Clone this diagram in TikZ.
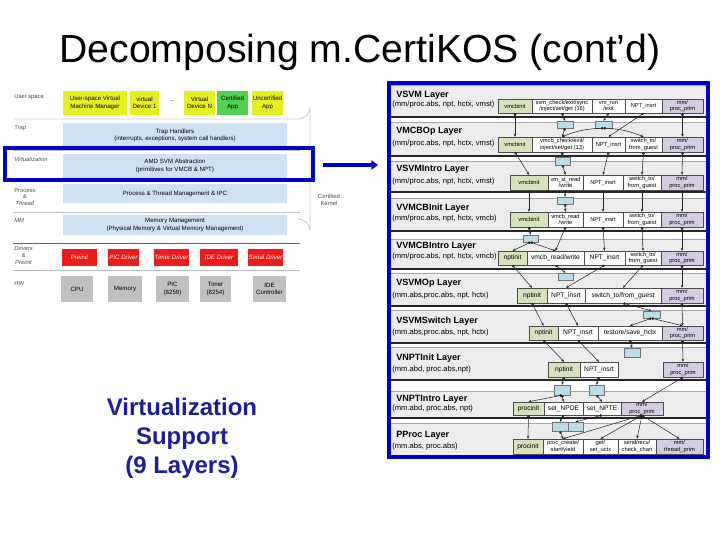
\documentclass[tikz,border=0pt]{standalone}
\usepackage{fontspec}
\setmainfont{Liberation Sans}
\usetikzlibrary{arrows.meta}
\definecolor{userY}{RGB}{230,240,30}
\definecolor{certG}{RGB}{80,210,80}
\definecolor{trapB}{RGB}{207,226,243}
\definecolor{drvR}{RGB}{236,28,28}
\definecolor{hwG}{RGB}{192,192,192}
\definecolor{hiBlue}{RGB}{0,0,200}
\definecolor{bandG}{RGB}{236,236,236}
\definecolor{initG}{RGB}{215,226,188}
\definecolor{primP}{RGB}{212,204,226}
\definecolor{cyanB}{RGB}{184,220,234}
\definecolor{vsBlue}{RGB}{30,30,150}
\newcommand\mybox[7]{\node[#6, minimum width={(#3-#2)*0.75pt}, minimum height={(#5-#4)*0.75pt}] (#1) at ({(#2+#3)/2},{(#4+#5)/2}) {#7};}
\newcommand\myband[7]{%
  \fill[bandG] (391,#2) rectangle (706,#3);
  \draw[black!35,line width=0.3pt] (391,#2) -- (706,#2);
  \draw[black!85,line width=0.8pt] (391,#3) -- (706,#3);
  \node[ltitle] (#1t) at (396,#4) {#6};
  \node[lsub] (#1s) at (392,#5) {#7};}
\tikzset{
  lbl/.style={anchor=west, inner sep=0pt, align=left, text=black!70, font=\fontsize{4.4}{5.2}\selectfont},
  lb/.style={inner sep=0.5pt, align=center, font=\fontsize{4.6}{5.4}\selectfont},
  yb/.style={lb, fill=userY},
  gb/.style={lb, fill=certG},
  tb/.style={lb, fill=trapB},
  rb/.style={lb, fill=drvR, text=white, font=\fontsize{4.6}{5.4}\selectfont\itshape},
  hb/.style={lb, fill=hwG},
  sep/.style={draw=black!25, line width=0.4pt},
  fb/.style={draw=black!70, line width=0.35pt, inner sep=0.3pt, align=center, font=\fontsize{4.3}{4.6}\selectfont},
  big/.style={font=\fontsize{5}{5.6}\selectfont},
  gx/.style={fb, fill=initG},
  px/.style={fb, fill=primP},
  wx/.style={fb, fill=white},
  cy/.style={draw=black!55, line width=0.35pt, fill=cyanB, inner sep=0pt},
  ltitle/.style={anchor=west, inner sep=0pt, font=\fontsize{6.8}{8}\selectfont\bfseries},
  lsub/.style={anchor=west, inner sep=0pt, font=\fontsize{5.7}{6.4}\selectfont},
  conn/.style={draw=black!85, line width=0.4pt, arrows={Circle[length=2pt]-{Stealth[length=2.2pt,width=1.9pt]}}},
}
\begin{document}
\begin{tikzpicture}[x=0.75pt,y=-0.75pt]
\useasboundingbox (0,0) rectangle (720,540);
\fill[white] (0,0) rectangle (720,540);
% title
\node[anchor=base, inner sep=0pt, font=\fontsize{29.4}{34}\selectfont] (title) at (360,62) {Decomposing m.CertiKOS (cont’d)};

% ---------- left diagram ----------
\draw[black!20, line width=0.6pt] (13,119) -- (298,119) arc[start angle=90, end angle=0, radius=12] -- (310,231) arc[start angle=0, end angle=-90, radius=12];
\draw[sep] (13,150) -- (300,150);
\draw[sep] (13,181) -- (300,181);
\draw[sep] (13,212) -- (300,212);
\draw[black!60, line width=0.5pt] (13,243) -- (300,243);
\draw[sep] (13,270) -- (300,270);

\node[lbl] (lus) at (14,97) {User space};
\node[lbl] (ltr) at (14,128) {Trap};
\node[lbl] (lvi) at (14,159) {\itshape Virtualization};
\node[lbl, align=center] (lpt) at (14,197) {Process\\\&\\\itshape Thread};
\node[lbl] (lmm) at (14,220) {\itshape MM};
\node[lbl, align=center] (ldp) at (14,255) {\itshape Drivers\\\&\\\itshape Preinit};
\node[lbl] (lhw) at (14,283) {HW};
\node[lbl, align=center, anchor=center] (lck) at (329,200) {Certified\\Kernel};

\mybox{u1}{63}{127}{91}{115}{yb}{User-space Virtual\\Machine Manager}
\mybox{u2}{130}{159}{91}{115}{yb}{virtual\\Device 1}
\node[lb] (udots) at (172,101) {...};
\mybox{u3}{184}{215}{91}{115}{yb}{Virtual\\Device N}
\mybox{u4}{217}{248}{91}{115}{gb}{Certified\\App}
\mybox{u5}{252}{283}{91}{115}{yb}{Uncertified\\App}

\mybox{trap}{63}{287}{123}{148}{tb}{Trap Handlers\\(interrupts, exceptions, system call handlers)}
\mybox{svm}{63}{287}{154}{178}{tb}{AMD SVM Abstraction\\(primitives for VMCB \& NPT)}
\mybox{proc}{63}{287}{184}{203}{tb}{Process \& Thread Management \& IPC}
\mybox{mem}{63}{287}{215}{235}{tb}{Memory Management\\(Physical Memory \& Virtual Memory Management)}

\mybox{d1}{62}{97}{249}{266}{rb}{Preinit}
\mybox{d2}{108}{139}{249}{266}{rb}{PIC Driver}
\mybox{d3}{154}{189}{249}{266}{rb}{Timer Driver}
\mybox{d4}{200}{238}{249}{266}{rb}{IDE Driver}
\mybox{d5}{248}{283}{249}{266}{rb}{Serial Driver}

\mybox{h1}{61}{93}{276}{302}{hb}{CPU}
\mybox{h2}{108}{142}{276}{302}{hb}{Memory}
\mybox{h3}{156}{189}{276}{302}{hb}{PIC\\(8259)}
\mybox{h4}{200}{231}{276}{302}{hb}{Timer\\(8254)}
\mybox{h5}{253}{286}{276}{302}{hb}{IDE\\Controller}

\draw[hiBlue, line width=2.6pt] (5,148) rectangle (313,180);
\coordinate (arS) at (323,165);
\coordinate (arE) at (378,165);
\draw[hiBlue, line width=3pt, -{Triangle[length=5pt,width=7pt]}] (arS) -- (arE);

\node[align=center, text=vsBlue, inner sep=0pt, font=\fontsize{18}{21.8}\selectfont\bfseries] (vs) at (182,438) {Virtualization\\Support\\(9 Layers)};

% ---------- right diagram ----------
\myband{b1}{85}{117}{95}{105}{VSVM Layer}{(mm/proc.abs, npt, hctx, vmst)}
\myband{b2}{122}{156}{131}{144}{VMCBOp Layer}{(mm/proc.abs, npt, hctx, vmst)}
\myband{b3}{161}{192}{169}{182}{VSVMIntro Layer}{(mm/proc.abs, npt, hctx, vmst)}
\myband{b4}{198}{231}{208}{219}{VVMCBInit Layer}{(mm/proc.abs, npt, hctx, vmcb)}
\myband{b5}{239}{269}{246}{257}{VVMCBIntro Layer}{(mm/proc.abs, npt, hctx, vmcb)}
\myband{b6}{273}{306}{283}{296}{VSVMOp Layer}{(mm.abs,proc.abs, npt, hctx)}
\myband{b7}{310}{343}{321}{333}{VSVMSwitch Layer}{(mm.abs,proc.abs, npt, hctx)}
\myband{b8}{347}{380}{358}{370}{VNPTInit Layer}{(mm.abd, proc.abs,npt)}
\myband{b9}{391}{418}{399}{409}{VNPTIntro Layer}{(mm.abd, proc.abs, npt)}
\myband{b10}{423}{456}{435}{447}{PProc Layer}{(mm.abs, proc.abs)}

% layer boxes
\mybox{L1a}{498}{532}{99}{113}{gx}{vmcbinit}
\mybox{L1b}{532}{592}{99}{113}{wx}{svm\_check/exit/sync\\/inject/set/get (16)}
\mybox{L1c}{592}{625}{99}{113}{wx}{vm\_run\\/exit}
\mybox{L1d}{625}{662}{99}{113}{wx}{NPT\_insrt}
\mybox{L1e}{662}{703}{99}{113}{px}{mm/\\proc\_prim}

\mybox{L2a}{498}{532}{137}{152}{gx}{vmcbinit}
\mybox{L2b}{532}{592}{137}{152}{wx}{vmcb\_check/exit/\\inject/set/get (13)}
\mybox{L2c}{592}{625}{137}{152}{wx}{NPT\_insrt}
\mybox{L2d}{625}{662}{137}{152}{wx}{switch\_to/\\from\_guest}
\mybox{L2e}{662}{703}{137}{152}{px}{mm/\\proc\_prim}

\mybox{L3a}{510}{548}{175}{190}{gx}{vmcbinit}
\mybox{L3b}{548}{583}{175}{190}{wx}{vm\_st\_read\\/write}
\mybox{L3c}{583}{623}{175}{190}{wx}{NPT\_insrt}
\mybox{L3d}{623}{661}{175}{190}{wx}{switch\_to/\\from\_guest}
\mybox{L3e}{661}{703}{175}{190}{px}{mm/\\proc\_prim}

\mybox{L4a}{510}{548}{212}{227}{gx}{vmcbinit}
\mybox{L4b}{548}{583}{212}{227}{wx}{vmcb\_read\\/write}
\mybox{L4c}{583}{623}{212}{227}{wx}{NPT\_insrt}
\mybox{L4d}{623}{661}{212}{227}{wx}{switch\_to/\\from\_guest}
\mybox{L4e}{661}{703}{212}{227}{px}{mm/\\proc\_prim}

\mybox{L5a}{498}{527}{251}{265}{gx,big}{nptinit}
\mybox{L5b}{527}{584}{251}{265}{wx,big}{vmcb\_read/write}
\mybox{L5c}{584}{625}{251}{265}{wx,big}{NPT\_insrt}
\mybox{L5d}{625}{661}{251}{265}{wx}{switch\_to/\\from\_guest}
\mybox{L5e}{661}{703}{251}{265}{px}{mm/\\proc\_prim}

\mybox{L6a}{517}{547}{288}{303}{gx,big}{nptinit}
\mybox{L6b}{547}{585}{288}{303}{wx,big}{NPT\_insrt}
\mybox{L6c}{585}{661}{288}{303}{wx,big}{switch\_to/from\_guest}
\mybox{L6e}{661}{703}{288}{303}{px}{mm/\\proc\_prim}

\mybox{L7a}{529}{558}{326}{340}{gx,big}{nptinit}
\mybox{L7b}{558}{598}{326}{340}{wx,big}{NPT\_insrt}
\mybox{L7c}{598}{662}{326}{340}{wx,big}{restore/save\_hctx}
\mybox{L7e}{662}{703}{326}{340}{px}{mm/\\proc\_prim}

\mybox{L8a}{548}{580}{362}{377}{gx,big}{nptinit}
\mybox{L8b}{580}{618}{362}{377}{wx,big}{NPT\_insrt}
\mybox{L8e}{663}{703}{362}{377}{px}{mm/\\proc\_prim}

\mybox{L9a}{513}{544}{402}{415}{gx,big}{procinit}
\mybox{L9b}{544}{583}{402}{415}{wx,big}{set\_NPDE}
\mybox{L9c}{583}{621}{402}{415}{wx,big}{set\_NPTE}
\mybox{L9e}{621}{663}{402}{415}{px}{mm/\\proc\_prim}

\mybox{L10a}{513}{543}{439}{454}{gx,big}{procinit}
\mybox{L10b}{543}{583}{439}{454}{wx}{proc\_create/\\start/yield}
\mybox{L10c}{583}{618}{439}{454}{wx}{get/\\set\_uctx}
\mybox{L10d}{618}{656}{439}{454}{wx}{send/recv/\\check\_chan}
\mybox{L10e}{656}{703}{439}{454}{px}{mm/\\thread\_prim}

% cyan boxes
\mybox{c1a}{557}{573}{121}{128}{cy}{}
\mybox{c1b}{595}{612}{121}{128}{cy}{}
\mybox{c2}{555}{570}{157}{165}{cy}{}
\mybox{c3}{557}{573}{197}{204}{cy}{}
\mybox{c4}{523}{538}{235}{242}{cy}{}
\mybox{c5}{558}{573}{273}{280}{cy}{}
\mybox{c6}{643}{660}{311}{318}{cy}{}
\mybox{c7}{624}{640}{348}{357}{cy}{}
\mybox{c8a}{554}{570}{385}{395}{cy}{}
\mybox{c8b}{589}{604}{385}{395}{cy}{}
\mybox{c9a}{552}{568}{422}{431}{cy}{}
\mybox{c9b}{568}{583}{422}{431}{cy}{}

% connectors
\draw[conn] (L1a.south) -- (L2a.north);
\draw[conn] (L1b.south) -- (c1a.north);
\draw[conn] (L1c.south) -- (c1b.north);
\draw[conn] (L1d.south) -- (L2c.north);
\draw[conn] (L1e.south) -- (L2e.north);
\draw[conn] (c1a.south) -- (L2b.north);
\draw[conn] (c1b.south) to[bend right=10] (L2b.north);
\draw[conn] (c1b.south) to[bend left=10] (L2d.north);

\draw[conn] (L2a.south) -- (L3a.north);
\draw[conn] (L2b.south) -- (c2.north);
\draw[conn] (c2.south) -- (L3b.north);
\draw[conn] (L2c.south) -- (L3c.north);
\draw[conn] (L2d.south) -- (L3d.north);
\draw[conn] (L2e.south) -- (L3e.north);

\draw[conn] (L3a.south) -- (L4a.north);
\draw[conn] (L3b.south) -- (c3.north);
\draw[conn] (c3.south) -- (L4b.north);
\draw[conn] (L3c.south) -- (L4c.north);
\draw[conn] (L3d.south) -- (L4d.north);
\draw[conn] (L3e.south) -- (L4e.north);

\draw[conn] (L4a.south) -- (c4.north);
\draw[conn] (L4b.south) -- (L5b.north);
\draw[conn] (c4.south) -- (L5a.north);
\draw[conn] (c4.south) -- (L5b.north);
\draw[conn] (L4c.south) -- (L5c.north);
\draw[conn] (L4d.south) -- (L5d.north);
\draw[conn] (L4e.south) -- (L5e.north);

\draw[conn] (L5a.south) -- (L6a.north);
\draw[conn] (L5b.south) -- (c5.north);
\draw[conn] (L5c.south) -- (L6b.north);
\draw[conn] (L5d.south) -- (L6c.north);
\draw[conn] (L5e.south) -- (L6e.north);

\draw[conn] (L6a.south) -- (L7a.north);
\draw[conn] (L6b.south) -- (L7b.north);
\draw[conn] (L6c.south) -- (c6.north);
\draw[conn] (c6.south) -- (L7c.north);
\draw[conn] (c6.south) -- (L7e.north);
\draw[conn] (L6e.south) -- (L7e.north);

\draw[conn] (L7a.south) -- (L8a.north);
\draw[conn] (L7b.south) -- (L8b.north);
\draw[conn] (L7c.south) -- (c7.north);
\draw[conn] (L7e.south) -- (L8e.north);

\draw[conn] (L8a.south) -- (c8a.north);
\draw[conn] (L8b.south) -- (c8b.north);
\draw[conn] (c8a.south) -- (L9a.north);
\draw[conn] (c8a.south) -- (L9b.north);
\draw[conn] (c8b.south) -- (L9c.north);
\draw[conn] (L8e.south) -- (L9e.north);

\draw[conn] (L9a.south) -- (L10a.north);
\draw[conn] (L9b.south) -- (c9a.north);
\draw[conn] (L9c.south) -- (c9b.north);
\draw[conn] (c9a.south) -- (L10b.north);
\draw[conn] (L9e.south) -- (L10b.north);
\draw[conn] (L9e.south) -- (L10c.north);
\draw[conn] (L9e.south) -- (L10d.north);
\draw[conn] (L9e.south) -- (L10e.north);

% outer border
\draw[hiBlue, line width=2.4pt] (389,83) rectangle (708,457);
\end{tikzpicture}
\end{document}
